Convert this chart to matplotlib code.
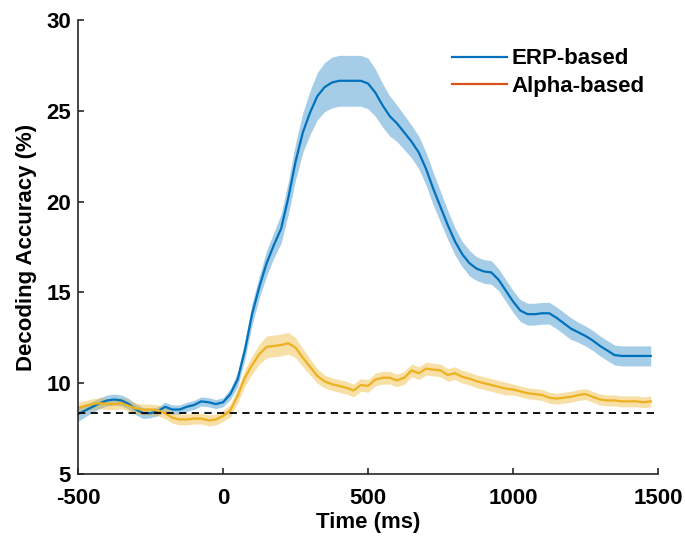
import matplotlib
matplotlib.use("Agg")
import matplotlib.pyplot as plt
from matplotlib.lines import Line2D
import numpy as np

plt.rcParams["font.family"] = ["Liberation Sans", "DejaVu Sans"]
plt.rcParams["font.weight"] = "bold"
plt.rcParams["axes.unicode_minus"] = False

# time axis (ms)
time_ms = list(range(-500, 1500, 25))

# ERP-based decoding: mean and half-width of shaded band
erp_mean = [8.3, 8.5, 8.7, 8.9, 9.05, 9.1, 9.05, 8.85, 8.55, 8.35,
            8.35, 8.45, 8.7, 8.55, 8.55, 8.7, 8.8, 9.0, 8.95, 8.85,
            8.95, 9.4, 10.2, 11.8, 13.8, 15.3, 16.6, 17.6, 18.5, 20.2,
            22.2, 23.8, 24.9, 25.8, 26.3, 26.55, 26.65, 26.65, 26.65, 26.65,
            26.5, 26.0, 25.3, 24.7, 24.3, 23.8, 23.3, 22.7, 21.8, 20.7,
            19.7, 18.7, 17.8, 17.1, 16.6, 16.3, 16.15, 16.1, 15.7, 15.1,
            14.5, 14.0, 13.8, 13.8, 13.85, 13.85, 13.6, 13.3, 13.0, 12.8,
            12.6, 12.35, 12.05, 11.8, 11.55, 11.5, 11.5, 11.5, 11.5, 11.5]
erp_err = [0.4, 0.35, 0.3, 0.3, 0.3, 0.3, 0.3, 0.3, 0.3, 0.3,
           0.25, 0.25, 0.25, 0.25, 0.25, 0.25, 0.25, 0.25, 0.25, 0.25,
           0.25, 0.3, 0.4, 0.5, 0.6, 0.6, 0.7, 0.7, 0.8, 0.9,
           1.0, 1.1, 1.2, 1.3, 1.35, 1.4, 1.4, 1.4, 1.4, 1.4,
           1.4, 1.3, 1.2, 1.1, 1.0, 0.95, 0.9, 0.9, 0.9, 0.9,
           0.85, 0.8, 0.75, 0.7, 0.7, 0.65, 0.65, 0.65, 0.6, 0.6,
           0.6, 0.6, 0.6, 0.6, 0.6, 0.6, 0.6, 0.6, 0.6, 0.55,
           0.55, 0.55, 0.55, 0.55, 0.55, 0.55, 0.55, 0.55, 0.55, 0.55]

# Alpha-based decoding
alpha_mean = [8.65, 8.75, 8.85, 8.9, 8.85, 8.85, 8.9, 8.75, 8.6, 8.55,
              8.55, 8.5, 8.35, 8.1, 8.0, 8.0, 8.05, 8.05, 7.95, 8.0,
              8.2, 8.5, 9.3, 10.3, 11.0, 11.6, 12.0, 12.05, 12.1, 12.2,
              11.95, 11.4, 10.9, 10.4, 10.1, 9.95, 9.85, 9.75, 9.6, 9.9,
              9.85, 10.2, 10.3, 10.3, 10.15, 10.3, 10.7, 10.55, 10.8, 10.75,
              10.7, 10.45, 10.55, 10.35, 10.25, 10.1, 10.0, 9.9, 9.8, 9.7,
              9.65, 9.55, 9.45, 9.4, 9.35, 9.2, 9.15, 9.2, 9.25, 9.35,
              9.4, 9.25, 9.1, 9.05, 9.05, 9.0, 9.0, 9.0, 8.95, 9.0]
alpha_err = [0.3, 0.3, 0.3, 0.3, 0.3, 0.3, 0.3, 0.3, 0.3, 0.3,
             0.3, 0.3, 0.3, 0.3, 0.3, 0.3, 0.3, 0.3, 0.3, 0.3,
             0.3, 0.35, 0.4, 0.45, 0.5, 0.55, 0.6, 0.6, 0.6, 0.6,
             0.55, 0.5, 0.45, 0.4, 0.35, 0.35, 0.35, 0.35, 0.35, 0.35,
             0.35, 0.35, 0.35, 0.35, 0.35, 0.35, 0.35, 0.35, 0.35, 0.35,
             0.35, 0.35, 0.35, 0.35, 0.35, 0.35, 0.35, 0.35, 0.35, 0.35,
             0.3, 0.3, 0.3, 0.3, 0.3, 0.3, 0.3, 0.3, 0.3, 0.3,
             0.3, 0.3, 0.3, 0.3, 0.3, 0.3, 0.3, 0.3, 0.3, 0.3]

chance = 100 / 12
legend_labels = ["ERP-based", "Alpha-based"]

blue = "#0072BD"
yellow = "#EDB120"
orange = "#D95319"
fs = 16

t = np.array(time_ms)
em, ee = np.array(erp_mean), np.array(erp_err)
am, ae = np.array(alpha_mean), np.array(alpha_err)

fig = plt.figure(figsize=(6.85, 5.39), dpi=100)
ax = fig.add_axes([0.114, 0.1206, 0.8466, 0.8424])

ax.fill_between(t, em - ee, em + ee, color=blue, alpha=0.35, linewidth=0)
ax.fill_between(t, am - ae, am + ae, color=yellow, alpha=0.4, linewidth=0)
ax.plot(t, em, color=blue, linewidth=1.6)
ax.plot(t, am, color=yellow, linewidth=1.6)
ax.plot([-500, 1500], [chance, chance], color="black", linestyle=(0, (4, 3)), linewidth=1.3)

ax.set_xlim(-500, 1500)
ax.set_ylim(5, 30)
ax.set_xticks([-500, 0, 500, 1000, 1500])
ax.set_yticks([5, 10, 15, 20, 25, 30])

for s in ["top", "right"]:
    ax.spines[s].set_visible(False)
for s in ["left", "bottom"]:
    ax.spines[s].set_linewidth(1.2)
    ax.spines[s].set_color("#262626")

ax.tick_params(direction="in", length=4, width=1.2, labelsize=fs, colors="#262626")
ax.tick_params(axis="x", pad=10)
ax.tick_params(axis="y", pad=5)
for lab in ax.get_xticklabels() + ax.get_yticklabels():
    lab.set_fontweight("bold")
    lab.set_color("black")

ax.set_xlabel("Time (ms)", fontsize=fs, fontweight="bold", labelpad=2)
ax.set_ylabel("Decoding Accuracy (%)", fontsize=fs, fontweight="bold", labelpad=7)

handles = [Line2D([], [], color=blue, linewidth=1.6),
           Line2D([], [], color=orange, linewidth=1.6)]
ax.legend(handles, legend_labels, loc="upper left", bbox_to_anchor=(0.626, 0.962),
          frameon=False, borderpad=0, handlelength=2.45, handletextpad=0.2,
          labelspacing=0.3, prop={"size": fs, "weight": "bold"})

plt.savefig("out.png", dpi=100)
plt.close()
